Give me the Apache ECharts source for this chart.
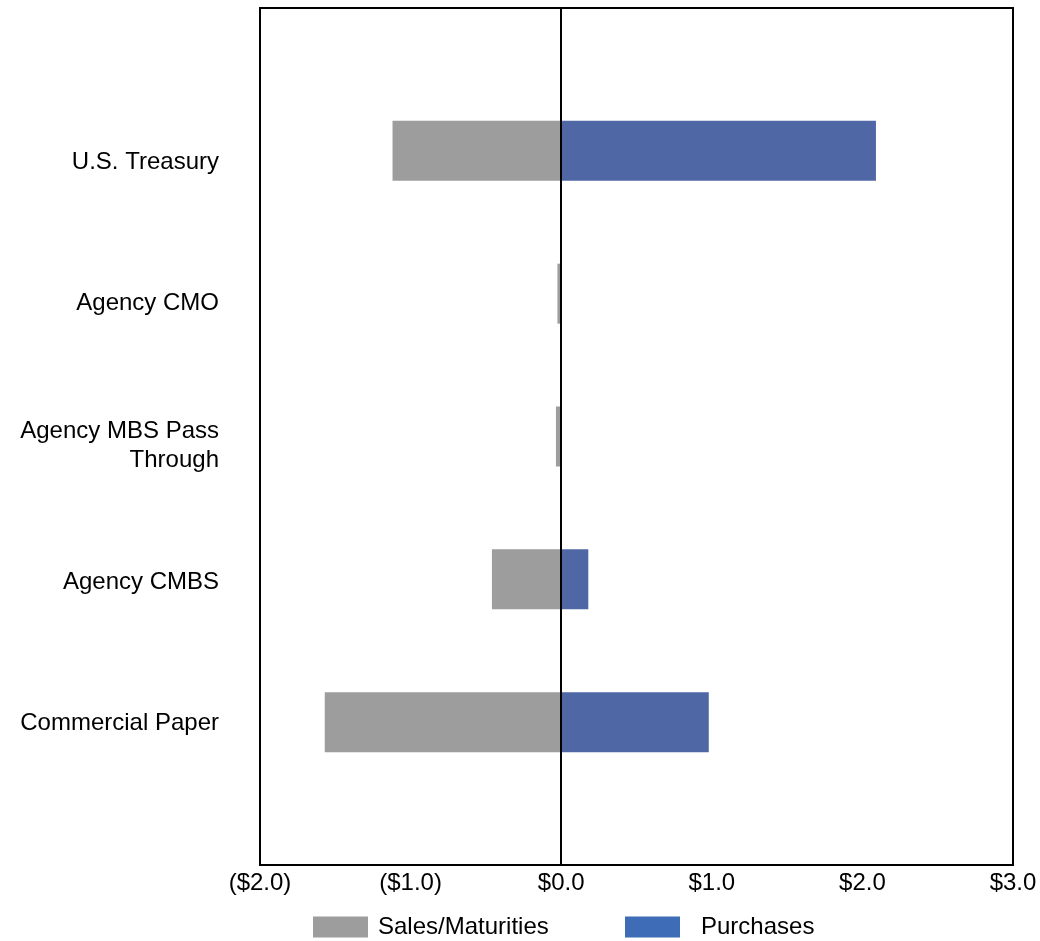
<!DOCTYPE html>
<html>
<head>
<meta charset="utf-8">
<script src="https://cdn.jsdelivr.net/npm/echarts@6/dist/echarts.min.js"></script>
<style>
  html, body { margin: 0; padding: 0; background: #fff; }
  #chart { width: 1040px; height: 941px; }
</style>
</head>
<body>
<div id="chart"></div>
<script>
// Security types, top to bottom
const categories = ['U.S. Treasury', 'Agency CMO', 'Agency MBS Pass\nThrough', 'Agency CMBS', 'Commercial Paper'];
// Values in $ billions
const salesMaturities = [-1.12, -0.025, -0.035, -0.46, -1.57];
const purchases = [2.09, 0, 0, 0.18, 0.98];
const xTicks = [-2, -1, 0, 1, 2, 3];

// Vertical nudge (px) of each row label below its bar centre
const labelNudge = [12, 10, 9, 3, 1];

const FONT = 'Liberation Sans, Arial, sans-serif';

// Empty slots above and below so the rows sit evenly inside the frame
const cats = [''].concat(categories, ['']);
const pad = arr => [null].concat(arr.map(v => (v === 0 ? null : v)), [null]);

// Rich styles: a thin spacer line on top pushes each label block down
const rich = { b: { lineHeight: 29, fontSize: 24, fontFamily: FONT, color: '#000' } };
labelNudge.forEach((n, i) => {
  rich['s' + i] = { lineHeight: n * 2, fontSize: 1, color: 'rgba(0,0,0,0)' };
});
const catLabel = v => {
  const i = categories.indexOf(v);
  if (i < 0) return '';
  return ['{s' + i + '| }'].concat(v.split('\n').map(line => '{b|' + line + '}')).join('\n');
};

const fmt = v => {
  const s = '$' + Math.abs(v).toFixed(1);
  return v < 0 ? '(' + s + ')' : s;
};

const chart = echarts.init(document.getElementById('chart'));
chart.setOption({
  animation: false,
  grid: {
    left: 260, right: 27, top: 8, bottom: 76,
    show: true, borderColor: '#000', borderWidth: 2, containLabel: false
  },
  xAxis: {
    type: 'value', min: xTicks[0], max: xTicks[xTicks.length - 1], interval: 1,
    axisLine: { show: false }, axisTick: { show: false }, splitLine: { show: false },
    axisLabel: { formatter: fmt, color: '#000', fontSize: 24, fontFamily: FONT, margin: 6 }
  },
  yAxis: {
    type: 'category', data: cats, inverse: true, boundaryGap: false,
    axisLine: { show: false }, axisTick: { show: false }, splitLine: { show: false },
    axisLabel: {
      formatter: catLabel, rich: rich, interval: 0,
      color: '#000', fontSize: 24, fontFamily: FONT, margin: 41, align: 'right', lineHeight: 29
    }
  },
  legend: [
    {
      left: 313, top: 915, padding: 0, itemWidth: 55, itemHeight: 21, icon: 'rect',
      data: [{ name: 'Sales/Maturities', itemStyle: { color: '#9d9d9d' } }],
      textStyle: { color: '#000', fontSize: 24, fontFamily: FONT, padding: [0, 0, 0, 5] }
    },
    {
      left: 625, top: 915, padding: 0, itemWidth: 55, itemHeight: 21, icon: 'rect',
      data: [{ name: 'Purchases', itemStyle: { color: '#3e6cb6' } }],
      textStyle: { color: '#000', fontSize: 24, fontFamily: FONT, padding: [0, 0, 0, 16] }
    }
  ],
  series: [
    {
      name: 'Sales/Maturities', type: 'bar', data: pad(salesMaturities),
      barWidth: 60, itemStyle: { color: '#9d9d9d' }
    },
    {
      name: 'Purchases', type: 'bar', data: pad(purchases),
      barWidth: 60, barGap: '-100%', itemStyle: { color: '#5067a6' },
      markLine: {
        silent: true, symbol: 'none', label: { show: false },
        lineStyle: { color: '#000', width: 2, type: 'solid' },
        data: [{ xAxis: 0 }]
      }
    }
  ]
});
</script>
</body>
</html>
